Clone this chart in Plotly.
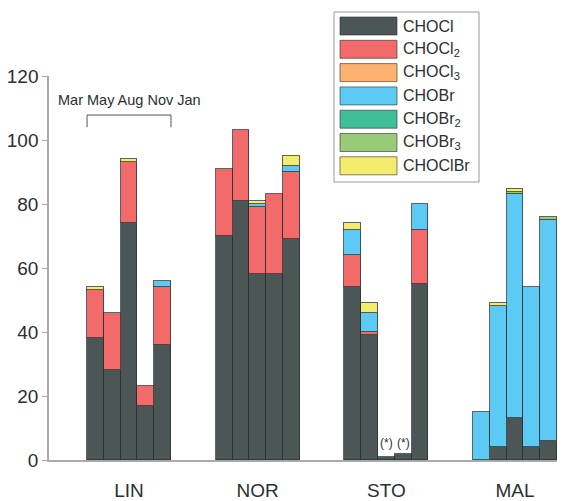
import plotly.graph_objects as go

# ---- data ----
sites = ["LIN", "NOR", "STO", "MAL"]
months = ["Mar", "May", "Aug", "Nov", "Jan"]
species = ["CHOCl", "CHOCl<sub>2</sub>", "CHOCl<sub>3</sub>", "CHOBr",
           "CHOBr<sub>2</sub>", "CHOBr<sub>3</sub>", "CHOClBr"]
colors = ["#4c5656", "#f26a6a", "#fdb36f", "#5ccaf5", "#3fbf98", "#97cb78", "#f3ec6e"]

# order: LIN Mar..Jan, NOR Mar..Jan, STO Mar..Jan, MAL Mar..Jan
CHOCl   = [38, 28, 74, 17, 36,  70, 81, 58, 58, 69,  54, 39, 1, 2, 55,  0, 4, 13, 4, 6]
CHOCl2  = [15, 18, 19, 6, 18,   21, 22, 21, 25, 21,  10, 1, 0, 0, 17,   0, 0, 0, 0, 0]
CHOCl3  = [0, 0, 0, 0, 0,       0, 0, 0, 0, 0,       0, 0, 0, 0, 0,     0, 0, 0, 0, 0]
CHOBr   = [0, 0, 0, 0, 2,       0, 0, 1, 0, 2,       8, 6, 0, 0, 8,     15, 44, 70, 50, 69]
CHOBr2  = [0, 0, 0, 0, 0,       0, 0, 0, 0, 0,       0, 0, 0, 0, 0,     0, 0, 0, 0, 0]
CHOBr3  = [0, 0, 0, 0, 0,       0, 0, 0, 0, 0,       0, 0, 0, 0, 0,     0, 0, 0.8, 0, 1]
CHOClBr = [1, 0, 1, 0, 0,       0, 0, 1, 0, 3,       2, 3, 0, 0, 0,     0, 1, 1, 0, 0]
series = [CHOCl, CHOCl2, CHOCl3, CHOBr, CHOBr2, CHOBr3, CHOClBr]
star_bars = [(2, 2), (2, 3)]  # (site index, month index) marked (*)

# ---- layout helpers ----
W = 0.1305
xs = [g + (j - 2) * W for g in range(len(sites)) for j in range(len(months))]
FONT = "Liberation Sans, Arial, Helvetica, sans-serif"
TXT = "#2a3030"

fig = go.Figure()
for name, vals, col in zip(species, series, colors):
    fig.add_trace(go.Bar(
        x=xs, y=[v if v else None for v in vals], width=W, name=name,
        marker=dict(color=col, line=dict(color="rgba(40,48,48,0.75)", width=1)),
        showlegend=False))

# (*) labels
for g, j in star_bars:
    fig.add_annotation(x=g + (j - 2) * W, y=5.3, text="(*)", showarrow=False,
                       font=dict(size=12, color=TXT, family=FONT))

# month labels and bracket over first group
fig.add_annotation(x=0, y=112.5, text=" ".join(months),
                   showarrow=False, font=dict(size=14.5, color=TXT, family=FONT))
x0, x1 = -2.5 * W, 2.5 * W
fig.add_shape(type="path", xref="x", yref="y",
              path=f"M {x0},104 L {x0},107.8 L {x1},107.8 L {x1},104",
              line=dict(color="#555", width=1))

# custom legend (paper coords, relative to plot area)
PW, PH, L, B = 508.0, 384.0, 49.0, 460.0
def px(xp): return (xp - L) / PW
def py(yp): return (B - yp) / PH
fig.add_shape(type="rect", xref="paper", yref="paper",
              x0=px(334), x1=px(479), y0=py(182), y1=py(12),
              line=dict(color="#999", width=1), fillcolor="white", layer="above")
for i, (name, col) in enumerate(zip(species, colors)):
    top = 17 + i * 23.3
    fig.add_shape(type="rect", xref="paper", yref="paper",
                  x0=px(340), x1=px(397), y0=py(top + 18), y1=py(top),
                  fillcolor=col, line=dict(color="rgba(40,48,48,0.6)", width=1), layer="above")
    fig.add_annotation(xref="paper", yref="paper", x=px(401), y=py(top + 9),
                       xanchor="left", yanchor="middle", text=name, showarrow=False,
                       font=dict(size=16, color=TXT, family=FONT))

# page body has an 8px margin, so the figure is sized to fit inside the window
fig.update_layout(
    width=559, height=493, margin=dict(l=41, r=10, t=68, b=41),
    paper_bgcolor="white", plot_bgcolor="white", barmode="stack", bargap=0,
    font=dict(family=FONT, color=TXT),
    xaxis=dict(range=[-0.622, 3.326], tickvals=list(range(len(sites))), ticktext=sites,
               showgrid=False, zeroline=False, showline=True, linecolor="#aaa", linewidth=1.5,
               ticks="outside", ticklen=12, tickcolor="rgba(0,0,0,0)", automargin=False,
               tickfont=dict(size=19, color=TXT, family=FONT)),
    yaxis=dict(range=[0, 120], tickvals=[0, 20, 40, 60, 80, 100, 120],
               showgrid=False, zeroline=False, showline=True, linecolor="#aaa", linewidth=1.5,
               ticks="outside", ticklen=5, tickcolor="#aaa", automargin=False,
               tickfont=dict(size=19, color=TXT, family=FONT)),
)
fig.write_html("out.html")
